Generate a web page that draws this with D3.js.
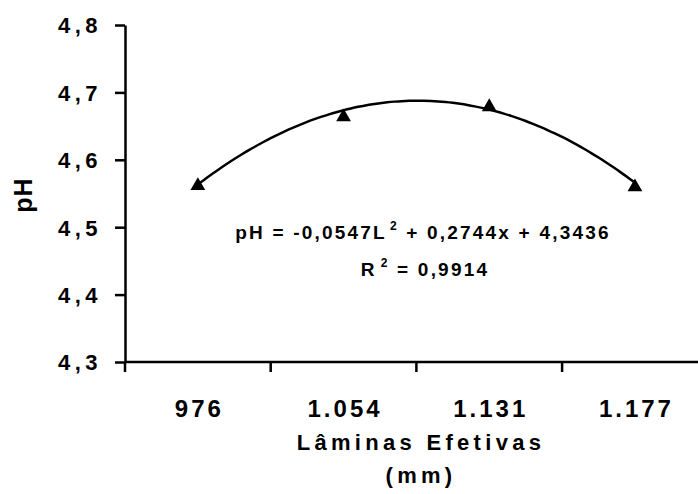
<!DOCTYPE html>
<html>
<head>
<meta charset="utf-8">
<script src="https://cdn.jsdelivr.net/npm/d3@7"></script>
<style>
  html, body { margin: 0; padding: 0; background: #fff; }
  svg text { font-family: "Liberation Sans", Arial, sans-serif; font-weight: bold; fill: #000; }
</style>
</head>
<body>
<svg id="chart" width="698" height="494"></svg>
<script>
// Effective water depths (mm) and measured pH
const categories = ["976", "1.054", "1.131", "1.177"];
const phValues = [4.563, 4.665, 4.680, 4.561];
const yTicks = [4.3, 4.4, 4.5, 4.6, 4.7, 4.8];
// Quadratic trend: pH = a*x^2 + b*x + c, x = category index (1..4)
const trendCoef = { a: -0.0547, b: 0.2744, c: 4.3436 };
const rSquared = "0,9914";

const svg = d3.select("#chart");
const plotLeft = 125, plotTop = 25, plotBottom = 362, bandW = 145.7;

const x = d3.scaleBand().domain(categories).range([plotLeft, plotLeft + bandW * categories.length]).padding(0);
const y = d3.scaleLinear().domain([4.3, 4.8]).range([plotBottom, plotTop]);
const xi = d3.scaleLinear().domain([1, categories.length])
  .range([x(categories[0]) + x.bandwidth() / 2, x(categories[categories.length - 1]) + x.bandwidth() / 2]);

// Y axis
const yAxis = d3.axisLeft(y).tickValues(yTicks).tickSize(10).tickSizeOuter(0).tickPadding(13)
  .tickFormat(d => d.toFixed(1).replace(".", ","));
const gy = svg.append("g").attr("transform", `translate(${plotLeft},0)`).call(yAxis);
gy.select(".domain").attr("stroke", "#000").attr("stroke-width", 2.5);
gy.selectAll(".tick line").attr("stroke", "#000").attr("stroke-width", 2.5);
gy.selectAll(".tick text").style("font-size", "22px").style("letter-spacing", "4.5px")
  .style("font-family", "'Liberation Sans', Arial, sans-serif").attr("dy", "0.36em");

// X axis: line with ticks at category boundaries, labels at centres
const gx = svg.append("g");
gx.append("line").attr("x1", plotLeft).attr("x2", x.range()[1]).attr("y1", plotBottom).attr("y2", plotBottom)
  .attr("stroke", "#000").attr("stroke-width", 2.5);
gx.selectAll("line.tk").data(categories).join("line").attr("class", "tk")
  .attr("x1", d => x(d)).attr("x2", d => x(d)).attr("y1", plotBottom).attr("y2", plotBottom + 10)
  .attr("stroke", "#000").attr("stroke-width", 2.5);
gx.selectAll("text").data(categories).join("text")
  .attr("x", d => x(d) + x.bandwidth() / 2 + 1.5).attr("y", 416.5)
  .attr("text-anchor", "middle").style("font-size", "24px").style("letter-spacing", "3px")
  .text(d => d);

// Axis titles
svg.append("text").attr("x", 421).attr("y", 450).attr("text-anchor", "middle")
  .style("font-size", "22px").style("letter-spacing", "4.3px").text("Lâminas Efetivas");
svg.append("text").attr("x", 421).attr("y", 483).attr("text-anchor", "middle")
  .style("font-size", "22px").style("letter-spacing", "4.3px").text("(mm)");
svg.append("text").attr("transform", "translate(32,195) rotate(-90)").attr("text-anchor", "middle")
  .style("font-size", "25px").style("letter-spacing", "1px").text("pH");

// Trend curve
const trend = d3.range(1, categories.length + 0.001, 0.05)
  .map(t => [t, trendCoef.a * t * t + trendCoef.b * t + trendCoef.c]);
svg.append("path").datum(trend)
  .attr("d", d3.line().x(d => xi(d[0])).y(d => y(d[1])).curve(d3.curveBasis))
  .attr("fill", "none").attr("stroke", "#000").attr("stroke-width", 2.5);

// Triangle markers
const tri = d3.symbol().type(d3.symbolTriangle).size(95);
svg.selectAll("path.pt").data(phValues).join("path").attr("class", "pt")
  .attr("d", tri)
  .attr("transform", (d, i) => `translate(${x(categories[i]) + x.bandwidth() / 2},${y(d) + 1})`)
  .attr("fill", "#000");

// Equation and R²
const eq = svg.append("text").attr("x", 423).attr("y", 239).attr("text-anchor", "middle")
  .style("font-size", "19px").style("letter-spacing", "2.2px");
eq.append("tspan").text("pH = -0,0547L");
eq.append("tspan").attr("dx", 3).attr("dy", -9).style("font-size", "12px").text("2");
eq.append("tspan").attr("dy", 9).text(" + 0,2744x + 4,3436");

const r2 = svg.append("text").attr("x", 425).attr("y", 276).attr("text-anchor", "middle")
  .style("font-size", "19px").style("letter-spacing", "2.2px");
r2.append("tspan").text("R");
r2.append("tspan").attr("dx", 4).attr("dy", -9).style("font-size", "12px").text("2");
r2.append("tspan").attr("dy", 9).text(" = " + rSquared);
</script>
</body>
</html>
